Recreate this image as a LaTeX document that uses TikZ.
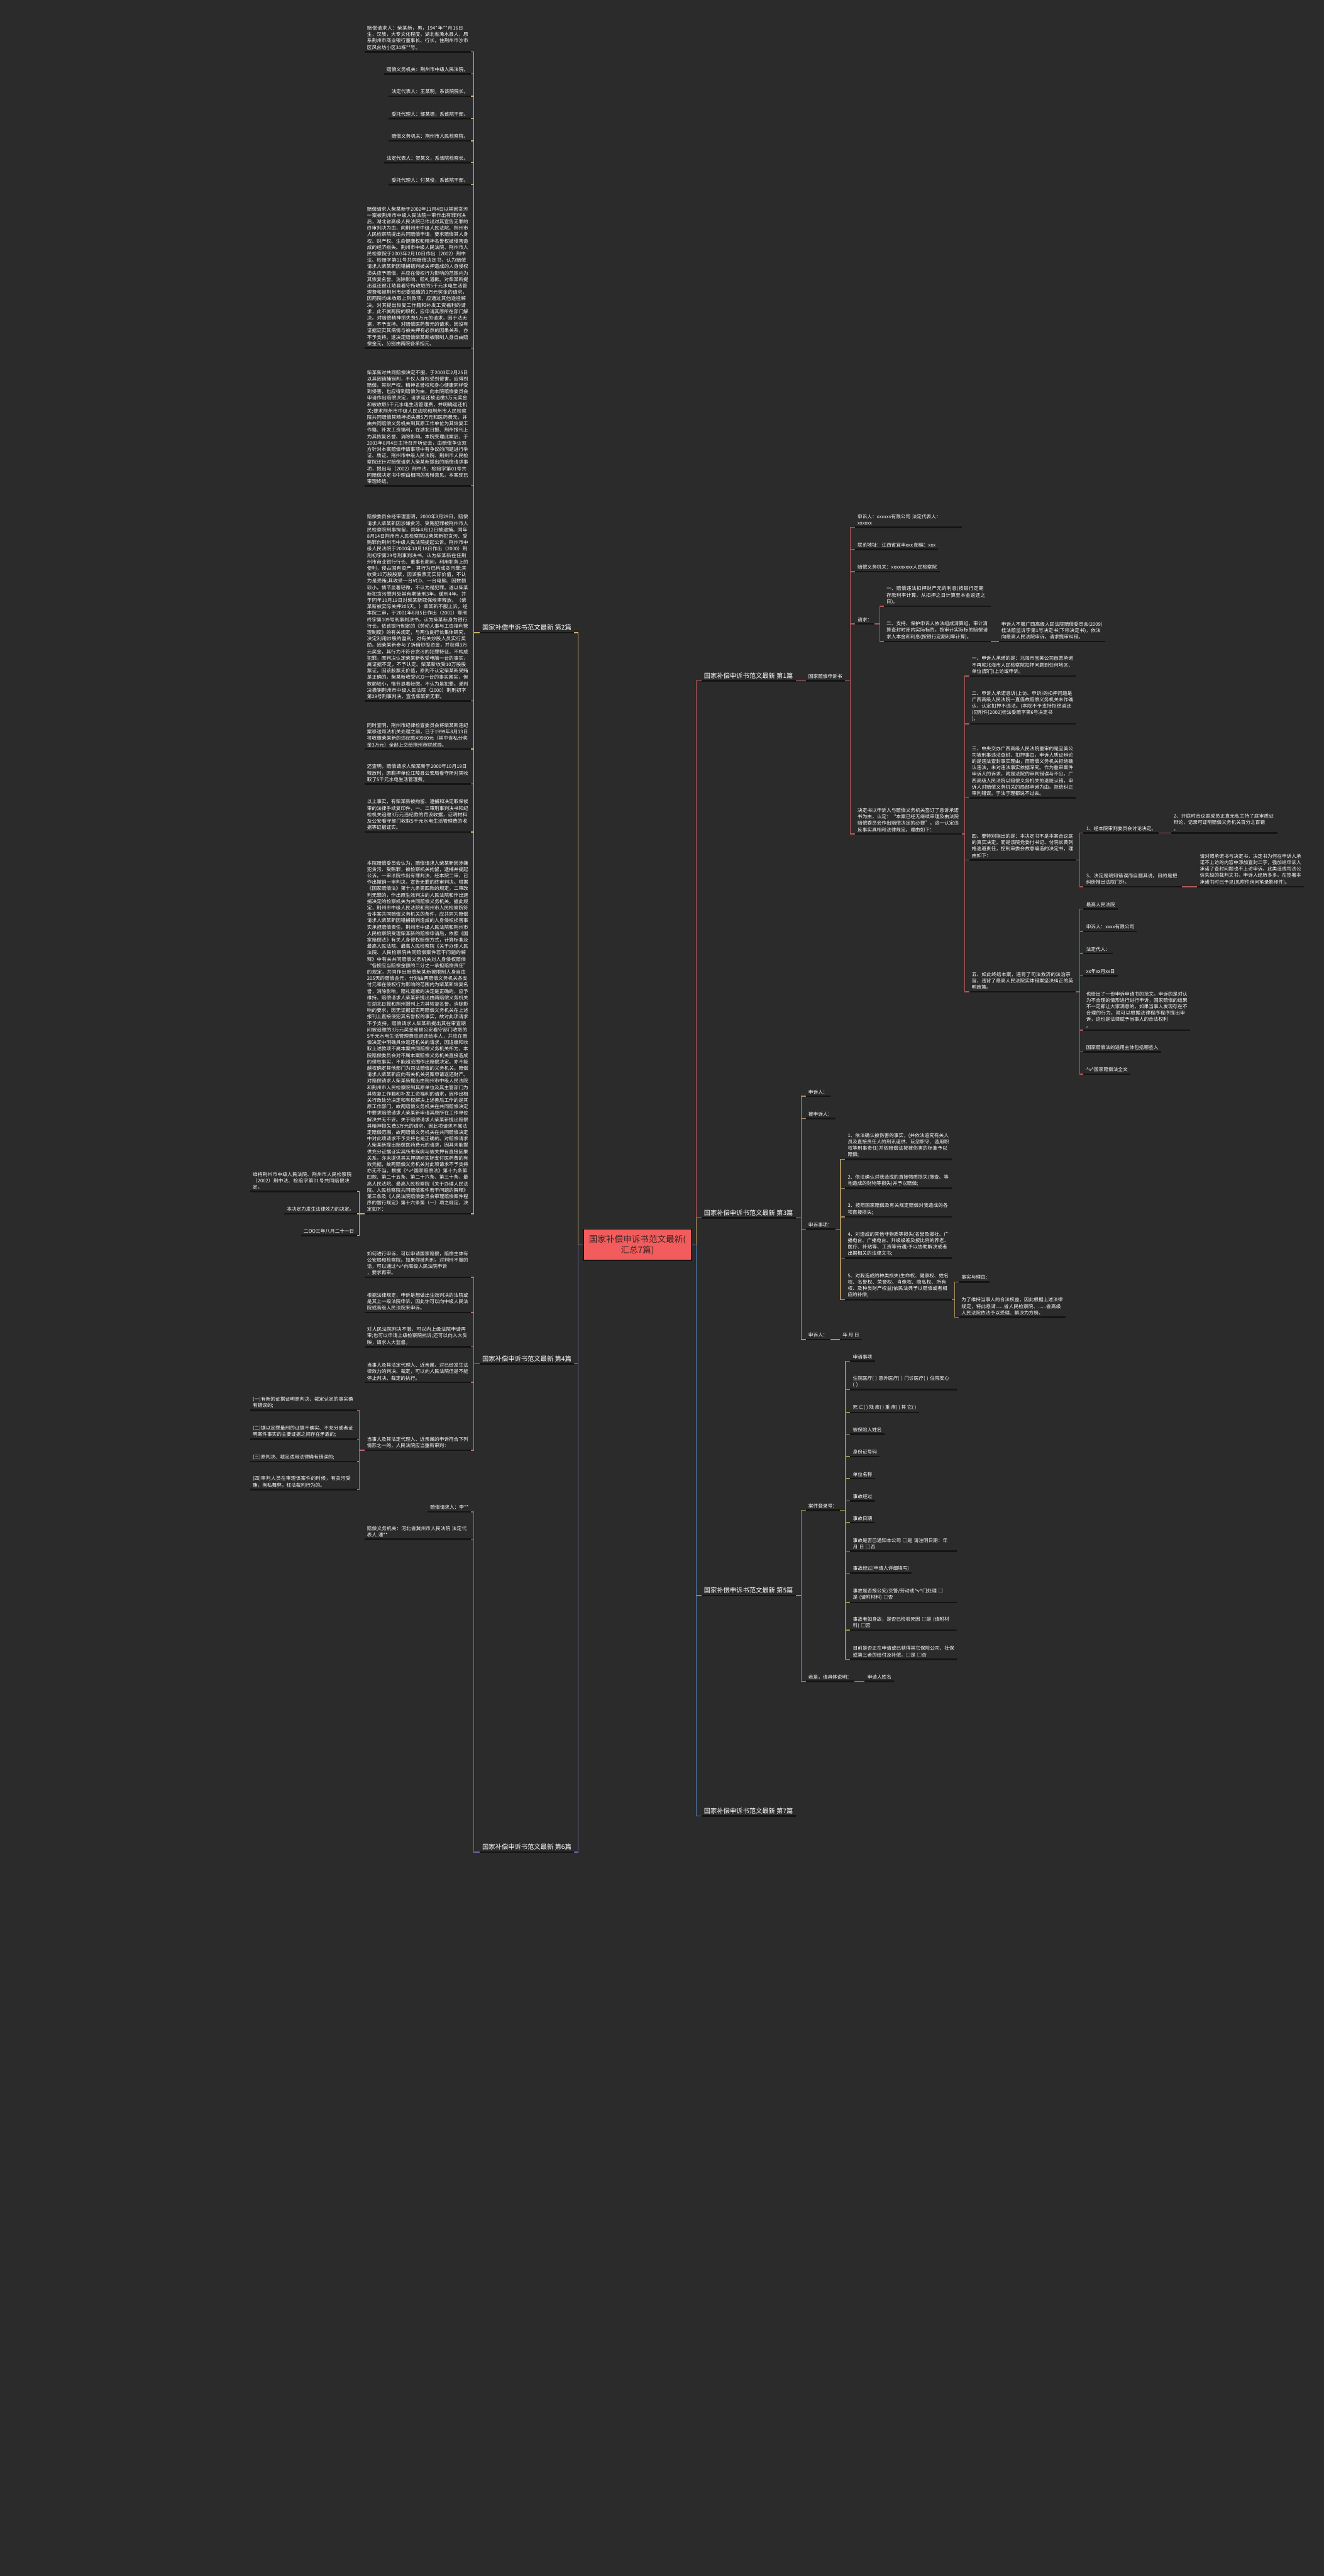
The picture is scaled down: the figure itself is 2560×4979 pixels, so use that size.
\documentclass[tikz,border=0pt]{standalone}
\usepackage{fontspec}
\setmainfont{Noto Sans CJK SC}
\XeTeXlinebreaklocale "zh"
\XeTeXlinebreakskip=0pt plus 1pt
\usetikzlibrary{calc}
\definecolor{bgcol}{HTML}{2B2B2B}
\definecolor{ulcol}{HTML}{141414}
\definecolor{rootcol}{HTML}{F25C5C}
\definecolor{roottxt}{HTML}{3A2626}
\definecolor{brA}{HTML}{B4595B}
\definecolor{brB}{HTML}{D2AE6C}
\definecolor{brC}{HTML}{A88F5E}
\definecolor{brD}{HTML}{C46878}
\definecolor{brE}{HTML}{7F9D40}
\definecolor{brF}{HTML}{6B67A6}
\definecolor{brG}{HTML}{4D79A8}
\newcommand\leaffont{\fontsize{9.3}{12.4}\selectfont}
\newcommand\lblfont{\fontsize{12.5}{15}\selectfont}
\newcommand\rootfont{\fontsize{16.5}{21}\selectfont}
\newcommand\vv{\textasciicircum v\textasciicircum}
\tikzset{
  uline/.style={draw=ulcol,line width=3pt},
  leaf/.style={text=white,font=\leaffont,align=left,inner xsep=5pt,inner ysep=4pt,
    append after command={(\tikzlastnode.south west) edge[uline] (\tikzlastnode.south east)}},
  para/.style={leaf,text width=196pt},
  lbl/.style={leaf,font=\lblfont},
  rt/.style={anchor=south west},
  lt/.style={anchor=south east},
  rootbox/.style={draw=ulcol,line width=2pt,fill=rootcol,text=roottxt,font=\rootfont,
    align=center,minimum width=209pt,minimum height=60pt,inner sep=0pt},
  link/.style={line width=1.8pt},
  lnA/.style={link,draw=brA},
  lnB/.style={link,draw=brB},
  lnC/.style={link,draw=brC},
  lnD/.style={link,draw=brD},
  lnE/.style={link,draw=brE},
  lnF/.style={link,draw=brF},
  lnG/.style={link,draw=brG}
}
\begin{document}
\begin{tikzpicture}[x=1pt,y=-1pt]
  \fill[bgcol] (0,0) rectangle (2560,4979);
  \useasboundingbox (0,0) rectangle (2560,4979);
  % trunks and buses
  \coordinate (trunkL) at (1118,0);
  \coordinate (trunkR) at (1346,0);
  \coordinate (busA) at (1644,0);
  \coordinate (busA4) at (1701,0);
  \coordinate (busA42) at (1922,0);
  \coordinate (busA5) at (1865,0);
  \coordinate (busA54) at (2088,0);
  \coordinate (busL1) at (1549,0);
  \coordinate (busC3) at (1625,0);
  \coordinate (busC35) at (1846,0);
  \coordinate (busE1) at (1635,0);
  \coordinate (busL2) at (916,0);
  \coordinate (busB14) at (695,0);
  \coordinate (busD5) at (695,0);

  \node[rootbox] (root) at (1232.5,2406) {国家补偿申诉书范文最新(\\汇总7篇)};

  % main labels
  \node[lbl,rt] (L1) at (1356,1316) {国家补偿申诉书范文最新 第1篇};
  \node[lbl,rt] (L3) at (1356,2354) {国家补偿申诉书范文最新 第3篇};
  \node[lbl,rt] (L5) at (1356,3084) {国家补偿申诉书范文最新 第5篇};
  \node[lbl,rt] (L7) at (1356,3510) {国家补偿申诉书范文最新 第7篇};
  \node[lbl,lt] (L2) at (1110,1223) {国家补偿申诉书范文最新 第2篇};
  \node[lbl,lt] (L4) at (1110,2636) {国家补偿申诉书范文最新 第4篇};
  \node[lbl,lt] (L6) at (1110,3580) {国家补偿申诉书范文最新 第6篇};

  % 第1篇
  \node[leaf,rt] (A0) at (1558,1316) {国家赔偿申诉书};
  \node[leaf,rt,text width=196pt] (A1) at (1653,1019) {申诉人：xxxxxx有限公司 法定代表人：\\xxxxxx};
  \node[leaf,rt] (A2) at (1653,1062) {联系地址：江西省宜丰xxx 邮编：xxx};
  \node[leaf,rt] (A3) at (1653,1105) {赔偿义务机关：xxxxxxxxx人民检察院};
  \node[leaf,rt] (A4) at (1653,1206) {请求：};
  \node[para,rt] (A41) at (1709,1172) {一、赔偿违法扣押财产元的利息(按银行定期存款利率计算，从扣押之日计算至本金返还之日)。};
  \node[para,rt] (A42) at (1709,1240) {二、支持、保护申诉人依法组成清算组，审计清算查封时库内实际标的。按审计实际标的赔偿请求人本金和利息(按银行定期利率计算)。};
  \node[para,rt] (A421) at (1931,1240) {申诉人不服广西高级人民法院赔偿委员会(2009)桂法赔监诉字第1号决定书(下称决定书)，依法向最高人民法院申诉，请求提审纠错。};
  \node[para,rt] (A5) at (1653,1612) {决定书以申诉人与赔偿义务机关签订了息诉承诺书为由，认定：“本案已经无继续审理及由法院赔偿委员会作出赔偿决定的必要”。这一认定违反事实真相和法律规定。理由如下：};
  \node[para,rt] (A51) at (1874,1307) {一、申诉人承诺的是：北海市宝美公司自愿承诺不再就北海市人民检察院扣押问题到任何地区、单位(部门)上访或申诉。};
  \node[para,rt] (A52) at (1874,1399) {二、申诉人承诺息诉(上访、申诉)的扣押问题是广西高级人民法院一直借故赔偿义务机关未作确认，认定扣押不违法。(本院不予支持拒绝返还(见附件[2002]桂法委赔字第6号决定书\\)。};
  \node[para,rt] (A53) at (1874,1542) {三、中央交办广西高级人民法院重审的是宝美公司被刑事违法查封、扣押事由，申诉人质证辩论的是违法查封事实理由，而赔偿义务机关拒绝确认违法，未对违法事实依据深究。作为重审案件申诉人的诉求，就是法院的审判错误与不公。广西高级人民法院以赔偿义务机关的退赃认错，申诉人对赔偿义务机关的局部承诺为由。拒绝纠正审判错误。于法于理都说不过去。};
  \node[para,rt] (A54) at (1874,1662) {四、要特别指出的是：本决定书不是本案合议庭的真实决定。而是该院党委付书记、付院长黄列格逃避责任，控制审委会故意编造的决定书，理由如下：};
  \node[leaf,rt] (A541) at (2095,1610) {1、经本院审判委员会讨论决定。};
  \node[para,rt] (A5411) at (2264,1610) {2、开庭时合议庭成员正直无私主持了庭审质证辩论，记录可证明赔偿义务机关百分之百错\\。};
  \node[leaf,rt,text width=180pt] (A542) at (2095,1714) {3、决定是明知错误而自圆其说。目的是把纠纷推出法院门外。};
  \node[para,rt] (A5421) at (2315,1714) {请对照承诺书与决定书，决定书为何在申诉人承诺不上访的内容中添加查封二字，强加给申诉人承诺了查封问题也不上访申诉。此类造成司法公信失缺的裁判文书，申诉人经历多多。在签署本承诺书时已予见(见附件询问笔录影印件)。};
  \node[para,rt] (A55) at (1874,1917) {五、如此终结本案，违背了司法救济的法治宗旨，违背了最高人民法院实体错案坚决纠正的英明政策。};
  \node[leaf,rt] (A551) at (2095,1757) {最高人民法院};
  \node[leaf,rt] (A552) at (2095,1800) {申诉人：xxxx有限公司};
  \node[leaf,rt] (A553) at (2095,1843) {法定代人：};
  \node[leaf,rt] (A554) at (2095,1886) {xx年xx月xx日};
  \node[para,rt] (A555) at (2095,1991) {也给出了一份申诉申请书的范文。申诉的是对认为不合理的情形进行进行申诉，国家赔偿的结果不一定都让大家满意的，如果当事人发现存在不合理的行为，就可以根据法律程序程序提出申诉，这也是法律赋予当事人的合法权利\\。};
  \node[leaf,rt] (A556) at (2095,2033) {国家赔偿法的适用主体包括哪些人};
  \node[leaf,rt] (A557) at (2095,2076) {\vv 国家赔偿法全文};

  % 第3篇
  \node[leaf,rt] (C1) at (1558,2119) {申诉人：};
  \node[leaf,rt] (C2) at (1558,2162) {被申诉人：};
  \node[leaf,rt] (C3) at (1558,2376) {申诉事项：};
  \node[para,rt] (C31) at (1634,2241) {1、依法确认被伤害的事实，(并依法追究有关人员及直接责任人的刑讯逼供、玩忽职守、滥用职权等刑事责任)并依赔偿法按被伤害的标准予以赔偿;};
  \node[para,rt] (C32) at (1634,2297) {2、依法确认对我造成的直接物质损失(搜查、等地造成的财物等损失)并予以赔偿;};
  \node[para,rt] (C33) at (1634,2352) {3、按照国家赔偿及有关规定赔偿对我造成的各项直接损失;};
  \node[para,rt] (C34) at (1634,2432) {4、对造成的其他非物质等损失(名誉及报社、广播电台、广播电台、升级级差及按比例的养老、医疗、补贴等、工资等待遇)予以协助解决或者出据相关的法律文书;};
  \node[para,rt] (C35) at (1634,2512) {5、对我造成的种类损失(生命权、健康权、姓名权、名誉权、荣誉权、肖像权、隐私权、所有权、及种类财产权益)依民法典予以赔偿或者相应的补偿;};
  \node[leaf,rt] (C351) at (1854,2478) {事实与理由;};
  \node[para,rt] (C352) at (1854,2546) {为了维持当事人的合法权益，因此根据上述法律规定，特此恳请......省人民检察院、......省高级人民法院依法予以受理、解决为方盼。};
  \node[leaf,rt] (C4) at (1558,2589) {申诉人：};
  \node[leaf,rt] (C41) at (1624,2589) {年 月 日};

  % 第5篇
  \node[leaf,rt] (E1) at (1558,2919) {案件登录号：};
  \node[leaf,rt] (E11) at (1644,2631) {申请事项};
  \node[para,rt] (E12) at (1644,2686) {住院医疗( ) 意外医疗( ) 门诊医疗( ) 住院安心\\( )};
  \node[leaf,rt] (E13) at (1644,2730) {死 亡( ) 残 疾( ) 重 疾( ) 其 它( )};
  \node[leaf,rt] (E14) at (1644,2772) {被保险人姓名};
  \node[leaf,rt] (E15) at (1644,2815) {身份证号码};
  \node[leaf,rt] (E16) at (1644,2858) {单位名称};
  \node[leaf,rt] (E17) at (1644,2901) {事故经过};
  \node[leaf,rt] (E18) at (1644,2943) {事故日期};
  \node[para,rt] (E19) at (1644,2998) {事故是否已通知本公司 □是 请注明日期：年\\ 月 日 □否};
  \node[leaf,rt] (E1a) at (1644,3041) {事故经过(申请人详细填写)};
  \node[para,rt] (E1b) at (1644,3097) {事故是否报公安/交警/劳动或\vv 门处理 □\\是 (请附材料) □否};
  \node[para,rt] (E1c) at (1644,3151) {事故者如身故，是否已检验死因 □是 (请附材\\料) □否};
  \node[para,rt] (E1d) at (1644,3207) {目前是否正在申请或已获得其它保险公司、社保或第三者的给付及补偿，□是 □否};
  \node[leaf,rt] (E2) at (1558,3250) {若是，请具体说明：};
  \node[leaf,rt] (E21) at (1672,3250) {申请人姓名};

  % 第2篇
  \node[para,lt] (B1) at (911,100) {赔偿请求人：柴某新，男，194*年**月16日生，汉族，大专文化程度，湖北省浠水县人，原系荆州市商业银行董事长、行长，住荆州市沙市区风台坊小区31栋**号。};
  \node[leaf,lt] (B2) at (911,143) {赔偿义务机关：荆州市中级人民法院。};
  \node[leaf,lt] (B3) at (911,186) {法定代表人：王某明，系该院院长。};
  \node[leaf,lt] (B4) at (911,229) {委托代理人：邹某德，系该院干部。};
  \node[leaf,lt] (B5) at (911,272) {赔偿义务机关：荆州市人民检察院。};
  \node[leaf,lt] (B6) at (911,314) {法定代表人：贺某文，系该院检察长。};
  \node[leaf,lt] (B7) at (911,357) {委托代理人：付某俊，系该院干部。};
  \node[para,lt] (B8) at (911,673) {赔偿请求人柴某新于2002年11月4日以其因贪污一案被荆州市中级人民法院一审作出有罪判决后，湖北省高级人民法院已作出对其宣告无罪的终审判决为由，向荆州市中级人民法院、荆州市人民检察院提出共同赔偿申请，要求赔偿其人身权、财产权、生命健康权和精神名誉权被侵害造成的经济损失。荆州市中级人民法院、荆州市人民检察院于2003年2月10日作出（2002）荆中法、检赔字第01号共同赔偿决定书，认为赔偿请求人柴某新因错捕错判被关押造成的人身侵权损失应予赔偿，并应在侵权行为影响的范围内为其恢复名誉、消除影响、赔礼道歉。对柴某新提出返还被江陵县看守所收取的5千元水电生活管理费和被荆州市纪委追缴的3万元奖金的请求，因两院均未收取上列款项，应通过其他途径解决。对其提出恢复工作籍和补发工资福利的请求，此不属两院的职权，应申请其原所在部门解决。对赔偿精神损失费5万元的请求，因于法无据，不予支持。对赔偿医药费元的请求，因没有证据证实其病情与被关押有必然的因果关系，亦不予支持。遂决定赔偿柴某新被限制人身自由赔偿金元，分别由两院各承担元。};
  \node[para,lt] (B9) at (911,939) {柴某新对共同赔偿决定不服，于2003年2月25日以其因错捕错判，不仅人身权受到侵害，应得到赔偿，其财产权、精神名誉权和身心健康同样受到侵害，也应得到赔偿为由，向本院赔偿委员会申请作出赔偿决定，请求返还被追缴3万元奖金和被收取5千元水电生活管理费，并明确返还机关;要求荆州市中级人民法院和荆州市人民检察院共同赔偿其精神损失费5万元和医药费元，并由共同赔偿义务机关到其原工作单位为其恢复工作籍、补发工资福利，在湖北日报、荆州报刊上为其恢复名誉、消除影响。本院受理此案后，于2003年6月4日主持召开听证会，由赔偿争议双方针对本案赔偿申请事项中有争议的问题进行举证、质证。荆州市中级人民法院、荆州市人民检察院还针对赔偿请求人柴某新提出的赔偿请求事项，提出与（2002）荆中法、检赔字第01号共同赔偿决定书中理由相同的答辩意见。本案现已审理终结。};
  \node[para,lt] (B10) at (911,1355) {赔偿委员会经审理查明，2000年3月29日，赔偿请求人柴某新因涉嫌贪污、受贿犯罪被荆州市人民检察院刑事拘留，同年4月12日被逮捕。同年8月14日荆州市人民检察院以柴某新犯贪污、受贿罪向荆州市中级人民法院提起公诉。荆州市中级人民法院于2000年10月18日作出（2000）荆刑初字第29号刑事判决书，认为柴某新在任荆州市商业银行行长、董事长期间，利用职务上的便利，侵占国有资产，其行为已构成贪污罪;其收受10万股股票，因该股票无实际价值，不认为是受贿;其收受一台VCD、一台电脑、因数额较小，情节显著轻微，不认为是犯罪。遂以柴某新犯贪污罪判处其有期徒刑3年，缓刑4年。并于同年10月19日对柴某新取保候审释放。（柴某新被实际关押205天。）柴某新不服上诉，经本院二审，于2001年6月5日作出（2001）鄂刑终字第109号刑事判决书，认为柴某新身为银行行长，依该银行制定的《劳动人事与工资福利管理制度》的有关规定，与两位副行长集体研究，决定利用炒股的盈利，对有关炒股人员实行奖励。因柴某新参与了拆借炒股资金，并获得3万元奖金，其行为不符合贪污的犯罪特征，不构成犯罪。原判决认定柴某新收受电脑一台的事实，属证据不足，不予认定。柴某新收受10万股股票证，因该股票无价值，原判不认定柴某新受贿是正确的。柴某新收受VCD一台的事实属实，但数额较小，情节显著轻微，不认为是犯罪。遂判决撤销荆州市中级人民法院（2000）荆刑初字第29号刑事判决，宣告柴某新无罪。};
  \node[para,lt] (B11) at (911,1448) {同时查明，荆州市纪律检查委员会将柴某新违纪案移送司法机关处理之前，已于1999年8月13日将收缴柴某新的违纪款49980元（其中含私分奖金3万元）全部上交给荆州市财政局。};
  \node[para,lt] (B12) at (911,1515) {还查明，赔偿请求人柴某新于2000年10月19日释放时，原羁押单位江陵县公安局看守所对其收取了5千元水电生活管理费。};
  \node[para,lt] (B13) at (911,1608) {以上事实，有柴某新被拘留、逮捕和决定取保候审的法律手续复印件，一、二审刑事判决书和纪检机关追缴3万元违纪款的罚没收据，证明材料及公安看守部门收取5千元水电生活管理费的收据等证据证实。};
  \node[para,lt] (B14) at (911,2346) {本院赔偿委员会认为，赔偿请求人柴某新因涉嫌犯贪污、受贿罪，被检察机关拘留，逮捕并提起公诉，一审法院作出有罪判决，经本院二审，已作出撤销一审判决，宣告无罪的终审判决。根据《国家赔偿法》第十九条第四款的规定，二审改判无罪的，作出原生效判决的人民法院和作出逮捕决定的检察机关为共同赔偿义务机关。据此规定，荆州市中级人民法院和荆州市人民检察院符合本案共同赔偿义务机关的条件，应共同为赔偿请求人柴某新因错捕错判造成的人身侵权损害事实承担赔偿责任。荆州市中级人民法院和荆州市人民检察院受理柴某新的赔偿申请后，依照《国家赔偿法》有关人身侵权赔偿方式，计算标准及最高人民法院、最高人民检察院《关于办理人民法院、人民检察院共同赔偿案件若干问题的解释》中有关共同赔偿义务机关对人身侵权赔偿“各按应当赔偿金额的二分之一承担赔偿责任”的规定，共同作出赔偿柴某新被限制人身自由205天的赔偿金元，分别由两赔偿义务机关各支付元和在侵权行为影响的范围内为柴某新恢复名誉，消除影响，赔礼道歉的决定是正确的，应予维持。赔偿请求人柴某新提出由两赔偿义务机关在湖北日报和荆州报刊上为其恢复名誉，消除影响的要求，因无证据证实两赔偿义务机关在上述报刊上直接侵犯其名誉权的事实，故对此项请求不予支持。赔偿请求人柴某新提出其在审查期间被追缴的3万元奖金和被公安看守部门收取的5千元水电生活管理费应退还给本人，并应在赔偿决定中明确具体返还机关的请求，因追缴和收取上述款项不属本案共同赔偿义务机关所为，本院赔偿委员会对不属本案赔偿义务机关直接造成的侵权事实，不能超范围作出赔偿决定，亦不能越权确定其他部门为司法赔偿的义务机关。赔偿请求人柴某新应向有关机关另案申请返还财产。对赔偿请求人柴某新提出由荆州市中级人民法院和荆州市人民检察院到其原单位及其主管部门为其恢复工作籍和补发工资福利的请求，因作出相关行政处分决定和有权解决上述善后工作的是其原工作部门，故两赔偿义务机关在共同赔偿决定中要求赔偿请求人柴某新申请其原所在工作单位解决并无不妥。关于赔偿请求人柴某新提出赔偿其精神损失费5万元的请求，因此项请求不属法定赔偿范围，故两赔偿义务机关在共同赔偿决定中对此项请求不予支持也是正确的。对赔偿请求人柴某新提出赔偿医药费元的请求，因其未能提供充分证据证实其所患疾病与被关押有直接因果关系，亦未提供其关押期间实际支付医药费的有效凭据，故两赔偿义务机关对此项请求不予支持亦无不当。根据《\vv 国家赔偿法》第十九条第四款、第二十五条、第二十六条、第三十条，最高人民法院、最高人民检察院《关于办理人民法院、人民检察院共同赔偿案件若干问题的解释》第三条及《人民法院赔偿委员会审理赔偿案件程序的暂行规定》第十六条第（一）项之规定，决定如下：};
  \node[para,lt] (B141) at (690,2303) {维持荆州市中级人民法院、荆州市人民检察院（2002）荆中法、检赔字第01号共同赔偿决定。};
  \node[leaf,lt] (B142) at (690,2346) {本决定为发生法律效力的决定。};
  \node[leaf,lt] (B143) at (690,2388) {二OO三年八月二十一日};

  % 第4篇
  \node[para,lt] (D1) at (911,2469) {如何进行申诉，可以申请国家赔偿，赔偿主体有公安局和检察院。如果你被判刑，对判刑不服的话，可以通过\vv 向高级人民法院申诉\\，要求再审。};
  \node[para,lt] (D2) at (911,2537) {根据法律规定，申诉是想做出生效判决的法院或是其上一级法院申诉，因此你可以向中级人民法院或高级人民法院来申诉。};
  \node[para,lt] (D3) at (911,2603) {对人民法院判决不服，可以向上级法院申请再审;也可以申请上级检察院抗诉;还可以向人大反映，请求人大监督。};
  \node[para,lt] (D4) at (911,2672) {当事人及其法定代理人、近亲属，对已经发生法律效力的判决、裁定，可以向人民法院但是不能停止判决、裁定的执行。};
  \node[para,lt] (D5) at (911,2803) {当事人及其法定代理人、近亲属的申诉符合下列情形之一的，人民法院应当重新审判：};
  \node[para,lt] (D51) at (690,2726) {(一)有新的证据证明原判决、裁定认定的事实确有错误的;};
  \node[para,lt] (D52) at (690,2782) {(二)据以定罪量刑的证据不确实、不充分或者证明案件事实的主要证据之间存在矛盾的;};
  \node[para,lt] (D53) at (690,2825) {(三)原判决、裁定适用法律确有错误的;};
  \node[para,lt] (D54) at (690,2879) {(四)审判人员在审理该案件的时候，有贪污受贿，徇私舞弊，枉法裁判行为的。};

  % 第6篇
  \node[leaf,lt] (F1) at (911,2922) {赔偿请求人：李**};
  \node[para,lt] (F2) at (911,2975) {赔偿义务机关：河北省冀州市人民法院 法定代表人 潘**};

  % links from the root
  \draw[lnA] (root.east) -- (root.east -| trunkR) |- (L1.south west);
  \draw[lnC] (root.east) -- (root.east -| trunkR) |- (L3.south west);
  \draw[lnE] (root.east) -- (root.east -| trunkR) |- (L5.south west);
  \draw[lnG] (root.east) -- (root.east -| trunkR) |- (L7.south west);
  \draw[lnB] (root.west) -- (root.west -| trunkL) |- (L2.south east);
  \draw[lnD] (root.west) -- (root.west -| trunkL) |- (L4.south east);
  \draw[lnF] (root.west) -- (root.west -| trunkL) |- (L6.south east);

  % 第1篇 links
  \draw[lnA] (L1.south east) -- (A0.south west);
  \foreach \c in {A1,A2,A3,A4,A5}
    \draw[lnA] (A0.south east) -- (A0.south east -| busA) |- (\c.south west);
  \foreach \c in {A41,A42}
    \draw[lnA] (A4.south east) -- (A4.south east -| busA4) |- (\c.south west);
  \draw[lnA] (A42.south east) -- (A421.south west);
  \foreach \c in {A51,A52,A53,A54,A55}
    \draw[lnA] (A5.south east) -- (A5.south east -| busA5) |- (\c.south west);
  \foreach \c in {A541,A542}
    \draw[lnA] (A54.south east) -- (A54.south east -| busA54) |- (\c.south west);
  \draw[lnA] (A541.south east) -- (A5411.south west);
  \draw[lnA] (A542.south east) -- (A5421.south west);
  \foreach \c in {A551,A552,A553,A554,A555,A556,A557}
    \draw[lnA] (A55.south east) -- (A55.south east -| busA54) |- (\c.south west);

  % 第3篇 links
  \foreach \c in {C1,C2,C3,C4}
    \draw[lnC] (L3.south east) -- (L3.south east -| busL1) |- (\c.south west);
  \foreach \c in {C31,C32,C33,C34,C35}
    \draw[lnC] (C3.south east) -- (C3.south east -| busC3) |- (\c.south west);
  \foreach \c in {C351,C352}
    \draw[lnC] (C35.south east) -- (C35.south east -| busC35) |- (\c.south west);
  \draw[lnC] (C4.south east) -- (C41.south west);

  % 第5篇 links
  \foreach \c in {E1,E2}
    \draw[lnE] (L5.south east) -- (L5.south east -| busL1) |- (\c.south west);
  \foreach \c in {E11,E12,E13,E14,E15,E16,E17,E18,E19,E1a,E1b,E1c,E1d}
    \draw[lnE] (E1.south east) -- (E1.south east -| busE1) |- (\c.south west);
  \draw[lnE] (E2.south east) -- (E21.south west);

  % 第2篇 links
  \foreach \c in {B1,B2,B3,B4,B5,B6,B7,B8,B9,B10,B11,B12,B13,B14}
    \draw[lnB] (L2.south west) -- (L2.south west -| busL2) |- (\c.south east);
  \foreach \c in {B141,B142,B143}
    \draw[lnB] (B14.south west) -- (B14.south west -| busB14) |- (\c.south east);

  % 第4篇 links
  \foreach \c in {D1,D2,D3,D4,D5}
    \draw[lnD] (L4.south west) -- (L4.south west -| busL2) |- (\c.south east);
  \foreach \c in {D51,D52,D53,D54}
    \draw[lnD] (D5.south west) -- (D5.south west -| busD5) |- (\c.south east);

  % 第6篇 links
  \foreach \c in {F1,F2}
    \draw[lnF] (L6.south west) -- (L6.south west -| busL2) |- (\c.south east);
\end{tikzpicture}
\end{document}
